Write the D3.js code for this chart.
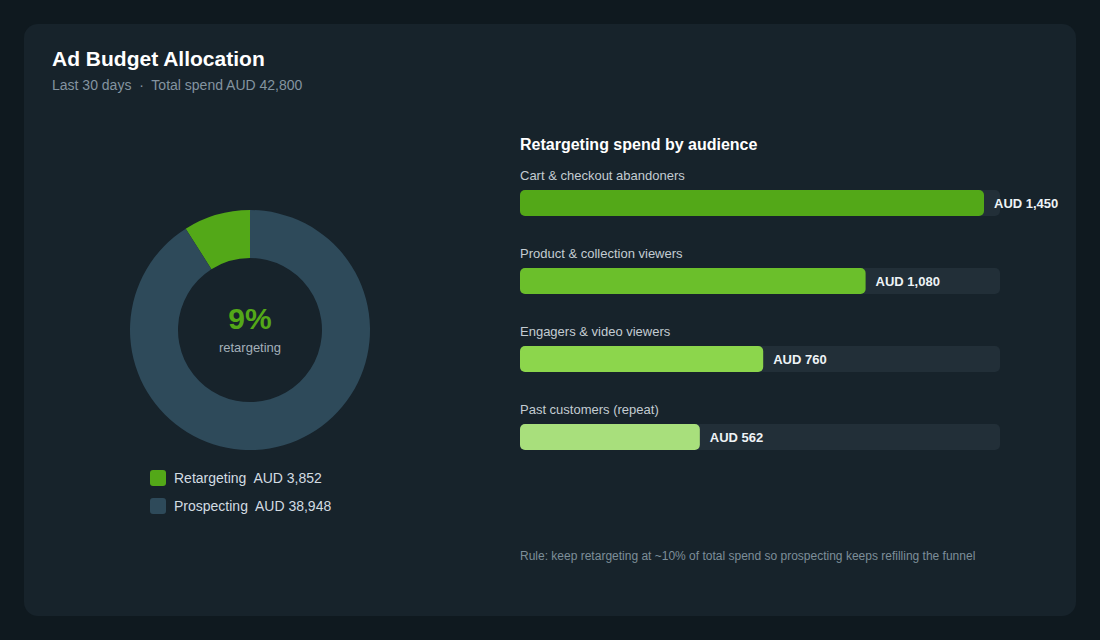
<!DOCTYPE html>
<html><head><meta charset="utf-8">
<script src="https://cdn.jsdelivr.net/npm/d3@7"></script>
<style>
html,body{margin:0;padding:0;background:#0f191f;}
svg{display:block;font-family:"Liberation Sans",Arial,Helvetica,sans-serif;}
</style></head>
<body><svg id="c" width="1100" height="640"></svg>
<script>
const splitNames = ["Retargeting", "Prospecting"];
const splitValues = [3852, 38948];
const splitColors = ["#53a818", "#2e4a5a"];
const audiences = ["Cart & checkout abandoners", "Product & collection viewers", "Engagers & video viewers", "Past customers (repeat)"];
const audienceSpend = [1450, 1080, 760, 562];
const audienceColors = ["#53a818", "#6bbf2b", "#8cd64c", "#a8df7c"];
const barMax = 1500;

const svg = d3.select("#c");
svg.append("rect").attr("x",0).attr("y",0).attr("width",1100).attr("height",640).attr("fill","#0f191f");
svg.append("rect").attr("x",24).attr("y",24).attr("width",1052).attr("height",592).attr("rx",14).attr("fill","#17232b");

svg.append("text").attr("x",52).attr("y",66).attr("fill","#ffffff").attr("font-size",21).attr("font-weight","bold").text("Ad Budget Allocation");
const total = d3.sum(splitValues);
const fmt = d3.format(",");
svg.append("text").attr("x",52).attr("y",90).attr("fill","#8494a0").attr("font-size",14)
  .style("white-space","pre").text("Last 30 days  \u00b7  Total spend AUD " + fmt(total));

// donut (drawn counter-clockwise from 12 o'clock)
const g = svg.append("g").attr("transform","translate(250,330)");
const pie = d3.pie().sort(null).startAngle(0).endAngle(-2*Math.PI).value(d=>d)(splitValues);
const arc = d3.arc().innerRadius(72).outerRadius(120);
g.selectAll("path").data(pie).join("path").attr("d",arc).attr("fill",(d,i)=>splitColors[i]);
const pct = Math.round(splitValues[0]/total*100);
g.append("text").attr("text-anchor","middle").attr("y",-1).attr("fill","#53a818").attr("font-size",30).attr("font-weight","bold").text(pct+"%");
g.append("text").attr("text-anchor","middle").attr("y",22).attr("fill","#a3b0b9").attr("font-size",13).text("retargeting");

// legend
const lg = svg.append("g");
splitNames.forEach((n,i)=>{
  const y = 470 + i*28;
  lg.append("rect").attr("x",150).attr("y",y).attr("width",16).attr("height",16).attr("rx",3).attr("fill",splitColors[i]);
  lg.append("text").attr("x",174).attr("y",y+13).attr("fill","#d3dce2").attr("font-size",14)
    .style("white-space","pre").text(n + "  AUD " + fmt(splitValues[i]));
});

// bars
svg.append("text").attr("x",520).attr("y",150).attr("fill","#ffffff").attr("font-size",16).attr("font-weight","bold").text("Retargeting spend by audience");
const x = d3.scaleLinear().domain([0,barMax]).range([0,480]);
const y = d3.scaleBand().domain(audiences).range([190, 190+78*4]).paddingInner(0);
audiences.forEach((a,i)=>{
  const y0 = y(a);
  svg.append("text").attr("x",520).attr("y",y0-10).attr("fill","#c3ccd2").attr("font-size",13).text(a);
  svg.append("rect").attr("x",520).attr("y",y0).attr("width",x(barMax)).attr("height",26).attr("rx",5).attr("fill","#222f38");
  svg.append("rect").attr("x",520).attr("y",y0).attr("width",x(audienceSpend[i])).attr("height",26).attr("rx",5).attr("fill",audienceColors[i]);
  svg.append("text").attr("x",520+x(audienceSpend[i])+10).attr("y",y0+18).attr("fill","#eef3f6").attr("font-size",13).attr("font-weight","bold").text("AUD " + fmt(audienceSpend[i]));
});

svg.append("text").attr("x",520).attr("y",560).attr("fill","#7d8e99").attr("font-size",12)
  .text("Rule: keep retargeting at ~10% of total spend so prospecting keeps refilling the funnel");
</script></body></html>
